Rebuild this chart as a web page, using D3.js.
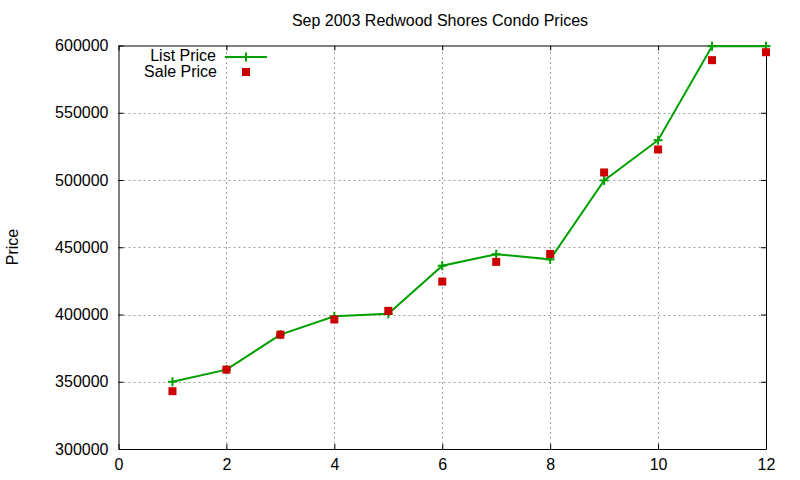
<!DOCTYPE html>
<html>
<head>
<meta charset="utf-8">
<script src="https://cdn.jsdelivr.net/npm/d3@7"></script>
<style>
  body { margin: 0; background: #fff; }
  text { font-family: "Liberation Sans", Arial, sans-serif; font-size: 16px; fill: #000; }
</style>
</head>
<body>
<div id="chart"></div>
<script>
// data
const months = [1, 2, 3, 4, 5, 6, 7, 8, 9, 10, 11, 12];
const listPrice = [350000, 359000, 385000, 398700, 400500, 436300, 444800, 441000, 499700, 529600, 599500, 599500];
const salePrice = [343000, 359000, 385000, 396300, 402700, 424500, 439100, 445000, 505600, 522700, 589100, 595000];
const xTicks = [0, 2, 4, 6, 8, 10, 12];
const yTicks = [300000, 350000, 400000, 450000, 500000, 550000, 600000];

const W = 800, H = 480;
const M = { LEFT: 118.5, RIGHT: 34, TOP: 45.5, BOTTOM: 31 };
const GREEN = "#00a000", RED = "#cc0000";

const svg = d3.select("#chart").append("svg")
    .attr("width", W).attr("height", H);

const x = d3.scaleLinear().domain([0, 12]).range([M.LEFT, W - M.RIGHT]);
const y = d3.scaleLinear().domain([300000, 600000]).range([H - M.BOTTOM, M.TOP]);

// grid
const grid = svg.append("g").attr("stroke", "#a0a0a0").attr("stroke-dasharray", "2,3").attr("stroke-width", 1);
grid.selectAll(".gx").data(xTicks.slice(1, -1)).enter().append("line")
    .attr("x1", d => Math.round(x(d)) + 0.5).attr("x2", d => Math.round(x(d)) + 0.5)
    .attr("y1", y(300000)).attr("y2", y(600000));
grid.selectAll(".gy").data(yTicks.slice(1, -1)).enter().append("line")
    .attr("x1", x(0)).attr("x2", x(12))
    .attr("y1", d => Math.round(y(d)) + 0.5).attr("y2", d => Math.round(y(d)) + 0.5);

// axes with inward ticks (mirrored on top and right)
const fmt = d3.format("d");
const axBottom = svg.append("g").attr("transform", `translate(0, ${y(300000)})`)
    .call(d3.axisBottom(x).tickValues(xTicks).tickSizeInner(-5).tickSizeOuter(0).tickPadding(11).tickFormat(fmt));
const axTop = svg.append("g").attr("transform", `translate(0, ${y(600000)})`)
    .call(d3.axisTop(x).tickValues(xTicks).tickSizeInner(-5).tickSizeOuter(0).tickFormat(""));
const axLeft = svg.append("g").attr("transform", `translate(${x(0)}, 0)`)
    .call(d3.axisLeft(y).tickValues(yTicks).tickSizeInner(-5).tickSizeOuter(0).tickPadding(10).tickFormat(fmt));
const axRight = svg.append("g").attr("transform", `translate(${x(12)}, 0)`)
    .call(d3.axisRight(y).tickValues(yTicks).tickSizeInner(-5).tickSizeOuter(0).tickFormat(""));

[axBottom, axTop, axLeft, axRight].forEach(g => {
    g.attr("font-size", null).attr("font-family", null);
    g.selectAll("text").attr("fill", "#000");
    g.selectAll("line, path").attr("stroke", "#000");
});
axBottom.selectAll("text").attr("dy", "0.6em");

// title and y label
svg.append("text").attr("x", 440).attr("y", 26).attr("text-anchor", "middle")
    .text("Sep 2003 Redwood Shores Condo Prices");
svg.append("text").attr("transform", `translate(18, ${247}) rotate(-90)`)
    .attr("text-anchor", "middle").text("Price");

// list price line
const line = d3.line().x((d, i) => x(months[i])).y(d => y(d));
svg.append("path").datum(listPrice)
    .attr("fill", "none").attr("stroke", GREEN).attr("stroke-width", 2)
    .attr("d", line);

const plus = (g, cx, cy) => {
    g.append("line").attr("x1", cx - 4.5).attr("x2", cx + 4.5).attr("y1", cy).attr("y2", cy);
    g.append("line").attr("x1", cx).attr("x2", cx).attr("y1", cy - 4.5).attr("y2", cy + 4.5);
};
const pts = svg.append("g").attr("stroke", GREEN).attr("stroke-width", 2);
listPrice.forEach((v, i) => plus(pts, x(months[i]), y(v)));

// sale price squares
svg.append("g").selectAll("rect").data(salePrice).enter().append("rect")
    .attr("x", (d, i) => x(months[i]) - 4).attr("y", d => y(d) - 4)
    .attr("width", 8).attr("height", 8).attr("fill", RED);

// legend
const lg = svg.append("g");
lg.append("text").attr("x", 216).attr("y", 61).attr("text-anchor", "end").text("List Price");
lg.append("text").attr("x", 217).attr("y", 77).attr("text-anchor", "end").text("Sale Price");
lg.append("line").attr("x1", 225).attr("x2", 267).attr("y1", 57).attr("y2", 57)
    .attr("stroke", GREEN).attr("stroke-width", 2);
const lgPlus = lg.append("g").attr("stroke", GREEN).attr("stroke-width", 2);
plus(lgPlus, 246, 57);
lg.append("rect").attr("x", 242).attr("y", 68).attr("width", 8).attr("height", 8).attr("fill", RED);
</script>
</body>
</html>
